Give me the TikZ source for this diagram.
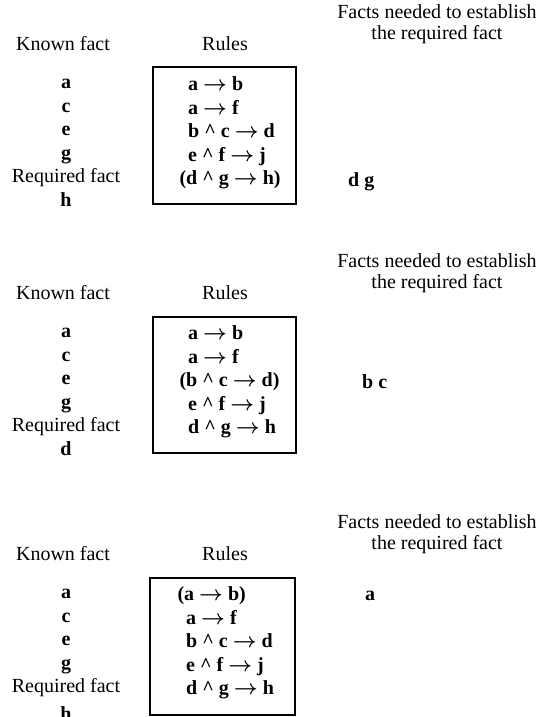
\documentclass[tikz,border=0pt]{standalone}
\usepackage{fontspec}
\setmainfont{Liberation Serif}
\begin{document}
\begin{tikzpicture}[x=1pt,y=-1pt,
  hdr/.style={font=\fontsize{20}{21}\selectfont, inner sep=0pt, align=center},
  fact/.style={font=\fontsize{20}{24}\selectfont\bfseries\boldmath, inner sep=0pt, text height=9pt, text depth=0pt},
  req/.style={font=\fontsize{20}{24}\selectfont, inner sep=0pt, text height=9pt, text depth=0pt},
  rulet/.style={fact, anchor=west},
  rbox/.style={draw, line width=1.3pt}]
\useasboundingbox (0,0) rectangle (541,717);
\newcommand\arr{$\rightarrow$}
\newcommand\car{\textasciicircum}
% ---------- panel 1 ----------
\begin{scope}[yshift=0pt]
\node[hdr] (p1facts) at (437,24) {Facts needed to establish\\the required fact};
\node[hdr] (p1known) at (63,44) {Known fact};
\node[hdr] (p1rules) at (225,44) {Rules};
\draw[rbox] (153,67) rectangle (296,204);
\node[fact] (p1a) at (66,84) {a};
\node[fact] (p1c) at (66,107.5) {c};
\node[fact] (p1e) at (66,131) {e};
\node[fact] (p1g) at (66,154.5) {g};
\node[req]  (p1rq) at (66,178) {Required fact};
\node[fact] (p1h) at (66,201.5) {h};
\node[rulet] (p1r1) at (188,86) {a \arr{} b};
\node[rulet] (p1r2) at (188,109.5) {a \arr{} f};
\node[rulet] (p1r3) at (188,133) {b \car{} c \arr{} d};
\node[rulet] (p1r4) at (188,156.5) {e \car{} f \arr{} j};
\node[rulet] (p1r5) at (186,180) {\llap{(}d \car{} g \arr{} h)};
\node[rulet] (p1res) at (348,182) {d g};
\end{scope}
% ---------- panel 2 ----------
\begin{scope}[yshift=-249pt]
\node[hdr] (p2facts) at (437,24) {Facts needed to establish\\the required fact};
\node[hdr] (p2known) at (63,44) {Known fact};
\node[hdr] (p2rules) at (225,44) {Rules};
\draw[rbox] (153,68) rectangle (296,204);
\node[fact] (p2a) at (66,84) {a};
\node[fact] (p2c) at (66,107.5) {c};
\node[fact] (p2e) at (66,131) {e};
\node[fact] (p2g) at (66,154.5) {g};
\node[req]  (p2rq) at (66,178) {Required fact};
\node[fact] (p2d) at (66,201.5) {d};
\node[rulet] (p2r1) at (188,86) {a \arr{} b};
\node[rulet] (p2r2) at (188,109.5) {a \arr{} f};
\node[rulet] (p2r3) at (186,133) {\llap{(}b \car{} c \arr{} d)};
\node[rulet] (p2r4) at (188,156.5) {e \car{} f \arr{} j};
\node[rulet] (p2r5) at (188,180) {d \car{} g \arr{} h};
\node[rulet] (p2res) at (362,135) {b c};
\end{scope}
% ---------- panel 3 ----------
\begin{scope}[yshift=-510pt]
\node[hdr] (p3facts) at (437,24) {Facts needed to establish\\the required fact};
\node[hdr] (p3known) at (63,44) {Known fact};
\node[hdr] (p3rules) at (225,44) {Rules};
\draw[rbox] (150,68) rectangle (295,205);
\node[fact] (p3a) at (66,84) {a};
\node[fact] (p3c) at (66,107.5) {c};
\node[fact] (p3e) at (66,131) {e};
\node[fact] (p3g) at (66,154.5) {g};
\node[req]  (p3rq) at (66,178) {Required fact};
\node[fact] (p3h) at (66,206) {h};
\node[rulet] (p3r1) at (184,86) {\llap{(}a \arr{} b)};
\node[rulet] (p3r2) at (186,109.5) {a \arr{} f};
\node[rulet] (p3r3) at (186,133) {b \car{} c \arr{} d};
\node[rulet] (p3r4) at (186,156.5) {e \car{} f \arr{} j};
\node[rulet] (p3r5) at (186,180) {d \car{} g \arr{} h};
\node[rulet] (p3res) at (365,86) {a};
\end{scope}
\end{tikzpicture}
\end{document}
